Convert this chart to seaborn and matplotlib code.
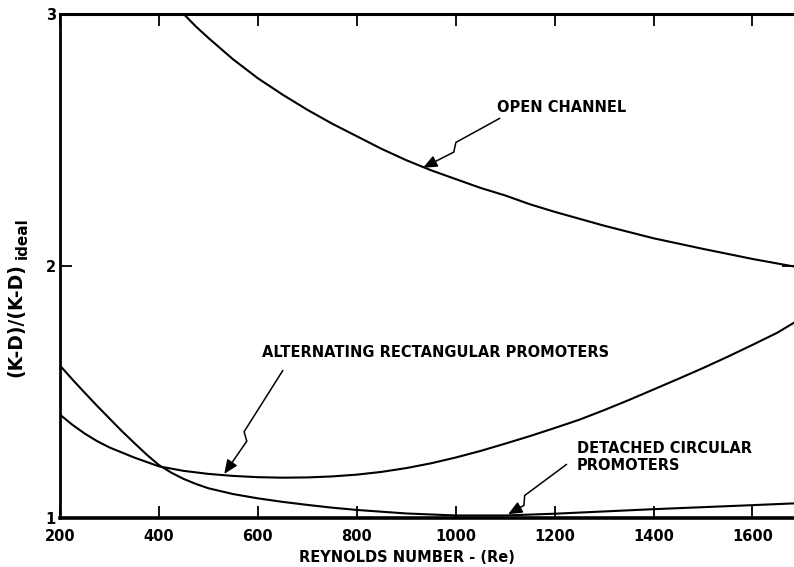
import numpy as np
import pandas as pd
import matplotlib
matplotlib.use("Agg")
import matplotlib.pyplot as plt
import seaborn as sns

# ---- data ----
re_open = [450, 475, 500, 550, 600, 650, 700, 750, 800, 850, 900, 950, 1000, 1050, 1100,
           1150, 1200, 1300, 1400, 1500, 1600, 1684]
kd_open = [3.00, 2.95, 2.905, 2.82, 2.745, 2.68, 2.62, 2.565, 2.515, 2.465, 2.42, 2.38, 2.345,
           2.31, 2.28, 2.245, 2.215, 2.16, 2.11, 2.068, 2.028, 1.998]

re_alt = [200, 225, 250, 275, 300, 350, 400, 450, 500, 550, 600, 650, 700, 750, 800, 850, 900,
          950, 1000, 1050, 1100, 1150, 1200, 1250, 1300, 1350, 1400, 1450, 1500, 1550, 1600,
          1650, 1684]
kd_alt = [1.41, 1.37, 1.335, 1.305, 1.28, 1.24, 1.205, 1.187, 1.175, 1.167, 1.162, 1.16, 1.161,
          1.165, 1.172, 1.183, 1.198, 1.217, 1.24, 1.266, 1.295, 1.325, 1.357, 1.39, 1.428,
          1.468, 1.51, 1.552, 1.595, 1.64, 1.687, 1.735, 1.775]

re_det = [200, 225, 250, 275, 300, 325, 350, 375, 400, 425, 450, 475, 500, 550, 600, 650, 700,
          750, 800, 900, 1000, 1100, 1200, 1300, 1400, 1500, 1600, 1684]
kd_det = [1.605, 1.55, 1.497, 1.445, 1.395, 1.345, 1.298, 1.252, 1.21, 1.18, 1.155, 1.135,
          1.118, 1.095, 1.078, 1.064, 1.052, 1.041, 1.032, 1.018, 1.01, 1.01, 1.017, 1.026,
          1.035, 1.043, 1.051, 1.058]

x_ticks = [200, 400, 600, 800, 1000, 1200, 1400, 1600]
y_ticks = [1, 2, 3]

labels = ["OPEN CHANNEL", "ALTERNATING RECTANGULAR PROMOTERS", "DETACHED CIRCULAR\nPROMOTERS"]

df = pd.concat([
    pd.DataFrame({"Re": re_open, "kd": kd_open, "curve": "open"}),
    pd.DataFrame({"Re": re_alt, "kd": kd_alt, "curve": "alt"}),
    pd.DataFrame({"Re": re_det, "kd": kd_det, "curve": "det"}),
], ignore_index=True)

sns.set_theme(style="ticks")
plt.rcParams["font.family"] = ["DejaVu Sans"]
plt.rcParams["text.color"] = "black"
plt.rcParams["axes.labelcolor"] = "black"
plt.rcParams["xtick.color"] = "black"
plt.rcParams["ytick.color"] = "black"

fig = plt.figure(figsize=(7.94, 5.67), dpi=100)
ax = fig.add_axes([60 / 794, 1 - 518 / 567, 1 - 60 / 794, (518 - 14) / 567])

sns.lineplot(data=df, x="Re", y="kd", units="curve", estimator=None, sort=False,
             color="black", linewidth=1.5, ax=ax, legend=False)

ax.set_xlim(200, 1684)
ax.set_ylim(1, 3)
ax.set_xticks(x_ticks)
ax.set_yticks(y_ticks)
ax.set_xticklabels([str(v) for v in x_ticks], fontsize=10.5, fontweight="bold", color="black")
ax.set_yticklabels([str(v) for v in y_ticks], fontsize=10.5, fontweight="bold", color="black")

for side in ["left", "top", "bottom"]:
    ax.spines[side].set_color("black")
ax.spines["left"].set_linewidth(2.0)
ax.spines["top"].set_linewidth(2.2)
ax.spines["bottom"].set_linewidth(2.6)
ax.spines["right"].set_visible(False)

ax.tick_params(axis="both", which="major", direction="in", length=8.5, width=1.3,
               color="black", labelcolor="black", top=True, right=True,
               labeltop=False, labelright=False)
ax.tick_params(axis="x", pad=8)
ax.tick_params(axis="y", pad=3)

ax.set_xlabel("REYNOLDS NUMBER - (Re)", fontsize=10.5, fontweight="bold", color="black")
ax.xaxis.set_label_coords((407 - 60) / 734, -(557 - 518) / 504)
ax.xaxis.label.set_va("center")
ax.set_ylabel("(K-D)/(K-D)", fontsize=13.5, fontweight="bold", color="black")
ax.yaxis.set_label_coords((16 - 60) / 734, (518 - 320) / 504)
ax.yaxis.label.set_va("center")
fig.text(22 / 794, 1 - 238 / 567, "ideal", rotation=90, fontsize=11, fontweight="bold",
         ha="center", va="center", color="black")

txt_kw = dict(fontsize=10.5, fontweight="bold", color="black", ha="left", va="center")
ax.text(1084, 2.627, labels[0], **txt_kw)
ax.text(608, 1.655, labels[1], **txt_kw)
ax.text(1245, 1.242, labels[2], linespacing=1.2, **txt_kw)

fig.canvas.draw()


def zig_arrow(start, tip, frac, off=3.5, along=7.0):
    tr = ax.transData
    a = tr.transform(start)
    t = tr.transform(tip)
    d = t - a
    L = np.hypot(*d)
    u = d / L
    n = np.array([u[1], -u[0]])
    if n[1] < 0:
        n = -n
    p = a + frac * d
    b = p + off * n
    c = p + along * u - off * n
    inv = tr.inverted()
    pts = inv.transform(np.array([a, b, c]))
    ax.plot(pts[:, 0], pts[:, 1], color="black", lw=1.1, solid_capstyle="butt")
    ax.annotate("", xy=tip, xytext=tuple(pts[2]),
                arrowprops=dict(arrowstyle="-|>,head_length=0.7,head_width=0.3",
                                color="black", lw=1.1, shrinkA=0, shrinkB=0))


zig_arrow((1090, 2.587), (934, 2.39), 0.55)
zig_arrow((651, 1.587), (532, 1.175), 0.61)
zig_arrow((1225, 1.214), (1106, 1.015), 0.68)

fig.savefig("out.png", dpi=100)
